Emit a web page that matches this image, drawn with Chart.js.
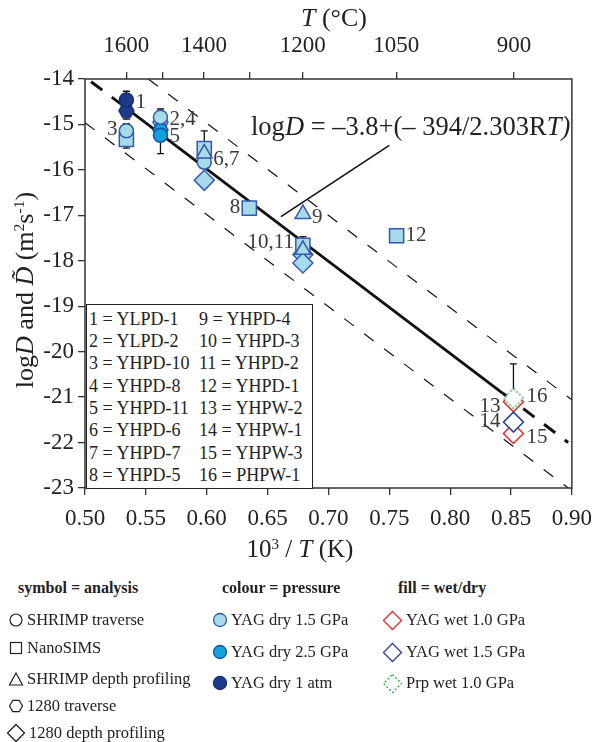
<!DOCTYPE html>
<html>
<head>
<meta charset="utf-8">
<script src="https://cdn.jsdelivr.net/npm/chart.js@4.4.1/dist/chart.umd.min.js"></script>
<style>
  body { margin: 0; background: #fff; }
  #wrap { position: relative; width: 602px; height: 742px; overflow: hidden; font-family: "Liberation Serif", "DejaVu Serif", serif; color: #222; }
  #chart { position: absolute; left: 0; top: 0; }
  .abs { position: absolute; white-space: nowrap; line-height: 1; }
  sup { font-size: 0.6em; vertical-align: 0.55em; line-height: 0; }
  .key { position: absolute; left: 86px; top: 304px; width: 225px; height: 183px; border: 1.5px solid #222; background: #fff; font-size: 18px; }
  .key div { position: absolute; white-space: nowrap; line-height: 1; }
  .hd { position: absolute; font-weight: bold; font-size: 16px; white-space: nowrap; line-height: 1; }
  .it { position: absolute; display: flex; align-items: center; font-size: 16.5px; white-space: nowrap; line-height: 1; }
  .it svg { margin-right: 3px; }
</style>
</head>
<body>
<div id="wrap">
  <canvas id="chart" width="602" height="570"></canvas>

  <div class="abs" style="left:334px;top:5px;font-size:26px;transform:translateX(-50%)"><i>T</i> (°C)</div>
  <div class="abs" style="left:300px;top:536px;font-size:25px;transform:translateX(-50%)">10<sup>3</sup> / <i>T</i> (K)</div>
  <div class="abs" style="left:25px;top:290px;font-size:26px;transform:translate(-50%,-50%) rotate(-90deg)">log<i>D</i> and <i>D&#771;</i> (m<sup>2</sup>s<sup>-1</sup>)</div>
  <div class="abs" style="left:251px;top:113px;font-size:26.5px">log<i>D</i> = –3.8+(– 394/2.303R<i>T)</i></div>

  <div class="key">
    <div style="left:2px;top:5px">1 = YLPD-1</div>
    <div style="left:2px;top:27px">2 = YLPD-2</div>
    <div style="left:2px;top:49px">3 = YHPD-10</div>
    <div style="left:2px;top:72px">4 = YHPD-8</div>
    <div style="left:2px;top:94px">5 = YHPD-11</div>
    <div style="left:2px;top:116px">6 = YHPD-6</div>
    <div style="left:2px;top:139px">7 = YHPD-7</div>
    <div style="left:2px;top:161px">8 = YHPD-5</div>
    <div style="left:112px;top:5px">9 = YHPD-4</div>
    <div style="left:112px;top:27px">10 = YHPD-3</div>
    <div style="left:112px;top:49px">11 = YHPD-2</div>
    <div style="left:112px;top:72px">12 = YHPD-1</div>
    <div style="left:112px;top:94px">13 = YHPW-2</div>
    <div style="left:112px;top:116px">14 = YHPW-1</div>
    <div style="left:112px;top:139px">15 = YHPW-3</div>
    <div style="left:112px;top:161px">16 = PHPW-1</div>
  </div>

  <div class="hd" style="left:18px;top:580px">symbol = analysis</div>
  <div class="it" style="left:8px;top:611px"><svg width="16" height="18"><circle cx="8" cy="9" r="6" fill="#fff" stroke="#222" stroke-width="1.2"/></svg>SHRIMP traverse</div>
  <div class="it" style="left:8px;top:639px"><svg width="16" height="18"><rect x="2.5" y="3.5" width="11" height="11" fill="#fff" stroke="#222" stroke-width="1.2"/></svg>NanoSIMS</div>
  <div class="it" style="left:8px;top:670px"><svg width="16" height="18"><polygon points="8,3 14.5,15 1.5,15" fill="#fff" stroke="#222" stroke-width="1.2"/></svg>SHRIMP depth profiling</div>
  <div class="it" style="left:8px;top:697px"><svg width="16" height="18"><polygon points="1.5,9 4.8,3.4 11.2,3.4 14.5,9 11.2,14.6 4.8,14.6" fill="#fff" stroke="#222" stroke-width="1.2"/></svg>1280 traverse</div>
  <div class="it" style="left:6px;top:723px"><svg width="20" height="20"><polygon points="10,1.5 18.5,10 10,18.5 1.5,10" fill="#fff" stroke="#222" stroke-width="1.3"/></svg>1280 depth profiling</div>

  <div class="hd" style="left:222px;top:580px">colour = pressure</div>
  <div class="it" style="left:212px;top:611px"><svg width="16" height="18"><circle cx="8" cy="9" r="6.5" fill="#a6dcea" stroke="#3557b0" stroke-width="1.3"/></svg>YAG dry 1.5 GPa</div>
  <div class="it" style="left:212px;top:643px"><svg width="16" height="18"><circle cx="8" cy="9" r="6.5" fill="#10a2dc" stroke="#1d4fa6" stroke-width="1.3"/></svg>YAG dry 2.5 GPa</div>
  <div class="it" style="left:212px;top:674px"><svg width="16" height="18"><circle cx="8" cy="9" r="6.5" fill="#1f3a8c" stroke="#162c6a" stroke-width="1.3"/></svg>YAG dry 1 atm</div>

  <div class="hd" style="left:398px;top:580px">fill = wet/dry</div>
  <div class="it" style="left:382px;top:610px"><svg width="21" height="21"><polygon points="10.5,1.5 19.5,10.5 10.5,19.5 1.5,10.5" fill="#fff" stroke="#e8262a" stroke-width="1.3"/></svg>YAG wet 1.0 GPa</div>
  <div class="it" style="left:382px;top:642px"><svg width="21" height="21"><polygon points="10.5,1.5 19.5,10.5 10.5,19.5 1.5,10.5" fill="#fff" stroke="#2b3f9e" stroke-width="1.3"/></svg>YAG wet 1.5 GPa</div>
  <div class="it" style="left:382px;top:673px"><svg width="21" height="21"><polygon points="10.5,1.5 19.5,10.5 10.5,19.5 1.5,10.5" fill="#fff" stroke="#2ea84a" stroke-width="1.3" stroke-dasharray="2,2"/></svg>Prp wet 1.0 GPa</div>
</div>

<script>
// x = 10^3/T (K), y = log D (m2/s)
const lightCircleX = [0.534, 0.562, 0.598];
const lightCircleY = [-15.14, -14.84, -15.83];
const lightSquareX = [0.534, 0.598, 0.635, 0.679, 0.756];
const lightSquareY = [-15.33, -15.53, -16.84, -17.66, -17.45];
const lightTriangleX = [0.598, 0.679, 0.679];
const lightTriangleY = [-15.64, -16.97, -17.76];
const lightHexX = [0.562];
const lightHexY = [-14.95];
const lightDiamondX = [0.598, 0.679, 0.679];
const lightDiamondY = [-16.23, -17.86, -18.05];
const brightCircleX = [0.562];
const brightCircleY = [-15.24];
const brightHexX = [0.562];
const brightHexY = [-15.12];
const darkCircleX = [0.534];
const darkCircleY = [-14.46];
const darkHexX = [0.534];
const darkHexY = [-14.70];
const wetRedX = [0.852, 0.852];      // 13, 15
const wetRedY = [-21.10, -21.80];
const wetBlueX = [0.852];            // 14
const wetBlueY = [-21.55];
const prpGreenX = [0.852];           // 16
const prpGreenY = [-21.03];

// error bars
const errX = [0.534, 0.534, 0.562, 0.598, 0.679, 0.852];
const errLo = [-14.88, -15.52, -15.64, -15.50, -17.62, -21.03];
const errHi = [-14.27, -14.98, -14.66, -15.14, -17.47, -20.27];

// Arrhenius fit and +/- 1 log unit band
const fitX = [0.522, 0.843];
const fitY = [-14.40, -20.91];
const fitExtLeftX = [0.505, 0.522];
const fitExtLeftY = [-14.06, -14.40];
const fitExtRightX = [0.843, 0.897];
const fitExtRightY = [-20.91, -22.00];
const upperX = [0.552, 0.900];
const upperY = [-14.00, -21.06];
const lowerX = [0.500, 0.897];
const lowerY = [-14.96, -23.00];
const leaderX = [0.661, 0.750];
const leaderY = [-17.03, -15.46];

// sample number labels
const labelText = ['1', '3', '2,4', '5', '6,7', '8', '9', '10,11', '12', '13', '14', '15', '16'];
const labelX = [0.534, 0.534, 0.562, 0.562, 0.598, 0.635, 0.679, 0.679, 0.756, 0.852, 0.852, 0.852, 0.852];
const labelY = [-14.52, -15.10, -14.88, -15.26, -15.78, -16.82, -17.04, -17.60, -17.45, -21.20, -21.53, -21.88, -20.98];
const labelSide = ['r', 'l', 'r', 'r', 'r', 'l', 'r', 'l', 'r', 'l', 'l', 'r', 'r'];

// axes
const xTicks = [0.50, 0.55, 0.60, 0.65, 0.70, 0.75, 0.80, 0.85, 0.90];
const topTempC = [1600, 1500, 1400, 1300, 1200, 1050, 900];
const topLabels = ['1600', '', '1400', '', '1200', '1050', '900'];

const LIGHT = '#a6dcea', LIGHT_B = '#3557b0';
const BRIGHT = '#10a2dc', BRIGHT_B = '#1d4fa6';
const DARK = '#1f3a8c', DARK_B = '#162c6a';
const SERIF = '"Liberation Serif", "DejaVu Serif", serif';

const ser = (xs, ys) => xs.map((x, i) => ({ x: x, y: ys[i] }));

const hexagon = (fill, stroke, r) => {
  const c = document.createElement('canvas');
  const s = Math.ceil(2 * r + 4);
  c.width = s; c.height = s;
  const g = c.getContext('2d');
  g.beginPath();
  for (let i = 0; i < 6; i++) {
    const a = Math.PI / 3 * i;
    const px = s / 2 + r * Math.cos(a), py = s / 2 + r * Math.sin(a);
    if (i) g.lineTo(px, py); else g.moveTo(px, py);
  }
  g.closePath();
  g.fillStyle = fill; g.fill();
  g.lineWidth = 1.5; g.strokeStyle = stroke; g.stroke();
  return c;
};

const dottedDiamond = (stroke, r) => {
  const c = document.createElement('canvas');
  const s = Math.ceil(2 * r + 4);
  c.width = s; c.height = s;
  const g = c.getContext('2d');
  const m = s / 2;
  g.beginPath();
  g.moveTo(m, m - r); g.lineTo(m + r, m); g.lineTo(m, m + r); g.lineTo(m - r, m); g.closePath();
  g.fillStyle = '#fff'; g.fill();
  g.setLineDash([2, 2]); g.lineWidth = 1.4; g.strokeStyle = stroke; g.stroke();
  return c;
};

const marks = (xs, ys, style, fill, stroke, r) => ({
  data: ser(xs, ys),
  pointStyle: style,
  pointRadius: r,
  pointHoverRadius: r,
  backgroundColor: fill,
  borderColor: stroke,
  borderWidth: 1.5,
  pointBorderWidth: 1.5,
  showLine: false
});

const line = (xs, ys, width, dash) => ({
  data: ser(xs, ys),
  showLine: true,
  borderColor: '#111',
  borderWidth: width,
  borderDash: dash,
  pointRadius: 0,
  pointHoverRadius: 0,
  fill: false
});

const errorBars = {
  id: 'errorBars',
  beforeDatasetsDraw(chart) {
    const { ctx, scales: { x, y } } = chart;
    ctx.save();
    ctx.strokeStyle = '#111';
    ctx.lineWidth = 1.3;
    errX.forEach((v, i) => {
      const px = x.getPixelForValue(v);
      const lo = y.getPixelForValue(errLo[i]);
      const hi = y.getPixelForValue(errHi[i]);
      ctx.beginPath();
      ctx.moveTo(px, lo); ctx.lineTo(px, hi);
      ctx.moveTo(px - 3.5, lo); ctx.lineTo(px + 3.5, lo);
      ctx.moveTo(px - 3.5, hi); ctx.lineTo(px + 3.5, hi);
      ctx.stroke();
    });
    ctx.restore();
  }
};

const pointLabels = {
  id: 'pointLabels',
  afterDatasetsDraw(chart) {
    const { ctx, scales: { x, y } } = chart;
    ctx.save();
    ctx.font = '21px ' + SERIF;
    ctx.fillStyle = '#3a3a3a';
    ctx.textBaseline = 'middle';
    labelText.forEach((t, i) => {
      const big = labelX[i] > 0.8;
      const gap = big ? 13 : 9;
      const right = labelSide[i] === 'r';
      ctx.textAlign = right ? 'left' : 'right';
      ctx.fillText(t, x.getPixelForValue(labelX[i]) + (right ? gap : -gap), y.getPixelForValue(labelY[i]));
    });
    ctx.restore();
  }
};

const frame = {
  id: 'frame',
  afterDraw(chart) {
    const { ctx, chartArea: a } = chart;
    ctx.save();
    ctx.strokeStyle = '#333';
    ctx.lineWidth = 1.5;
    ctx.strokeRect(a.left, a.top, a.right - a.left, a.bottom - a.top);
    ctx.restore();
  }
};

const tickFont = { family: SERIF, size: 23 };
const axisGrid = { drawOnChartArea: false, tickLength: 7, color: '#333', lineWidth: 1.3 };

new Chart(document.getElementById('chart'), {
  type: 'scatter',
  data: {
    datasets: [
      marks(prpGreenX, prpGreenY, dottedDiamond('#2ea84a', 10), '#fff', '#2ea84a', 10),
      marks(wetBlueX, wetBlueY, 'rectRot', '#fff', '#2b3f9e', 10),
      marks(wetRedX, wetRedY, 'rectRot', '#fff', '#e8262a', 10),
      marks(brightCircleX, brightCircleY, 'circle', BRIGHT, BRIGHT_B, 7),
      marks(darkCircleX, darkCircleY, 'circle', DARK, DARK_B, 7),
      marks(lightTriangleX, lightTriangleY, 'triangle', LIGHT, LIGHT_B, 9),
      marks(lightCircleX, lightCircleY, 'circle', LIGHT, LIGHT_B, 7),
      marks(lightSquareX, lightSquareY, 'rect', LIGHT, LIGHT_B, 10),
      marks(lightDiamondX, lightDiamondY, 'rectRot', LIGHT, LIGHT_B, 10),
      marks(brightHexX, brightHexY, hexagon(BRIGHT, BRIGHT_B, 7.5), BRIGHT, BRIGHT_B, 7),
      marks(darkHexX, darkHexY, hexagon(DARK, DARK_B, 7.5), DARK, DARK_B, 7),
      marks(lightHexX, lightHexY, hexagon(LIGHT, LIGHT_B, 7.5), LIGHT, LIGHT_B, 7),
      line(fitX, fitY, 2.8, []),
      line(fitExtLeftX, fitExtLeftY, 3, [14, 12]),
      line(fitExtRightX, fitExtRightY, 3, [14, 12]),
      line(upperX, upperY, 1.2, [12, 13]),
      line(lowerX, lowerY, 1.2, [12, 13]),
      line(leaderX, leaderY, 1.6, [])
    ]
  },
  options: {
    responsive: false,
    animation: false,
    events: [],
    layout: { padding: { left: 0, right: 24, top: 0, bottom: 0 } },
    plugins: { legend: { display: false }, tooltip: { enabled: false } },
    scales: {
      x: {
        type: 'linear', position: 'bottom', min: 0.5, max: 0.9,
        afterBuildTicks: s => { s.ticks = xTicks.map(v => ({ value: v })); },
        afterFit: s => { s.height = 82; },
        ticks: { callback: v => v.toFixed(2), font: tickFont, color: '#222', padding: 10, maxRotation: 0, autoSkip: false },
        grid: axisGrid,
        border: { display: false }
      },
      xTop: {
        type: 'linear', position: 'top', min: 0.5, max: 0.9,
        afterBuildTicks: s => { s.ticks = topTempC.map(c => ({ value: 1000 / (c + 273.15) })); },
        afterFit: s => { s.height = 79; },
        ticks: { callback: (v, i) => topLabels[i], font: tickFont, color: '#222', padding: 12, maxRotation: 0, autoSkip: false },
        grid: axisGrid,
        border: { display: false }
      },
      y: {
        type: 'linear', position: 'left', min: -23, max: -14,
        afterFit: s => { s.width = 85; },
        ticks: { stepSize: 1, font: tickFont, color: '#222', padding: 4 },
        grid: axisGrid,
        border: { display: false }
      }
    }
  },
  plugins: [errorBars, pointLabels, frame]
});
</script>
</body>
</html>
